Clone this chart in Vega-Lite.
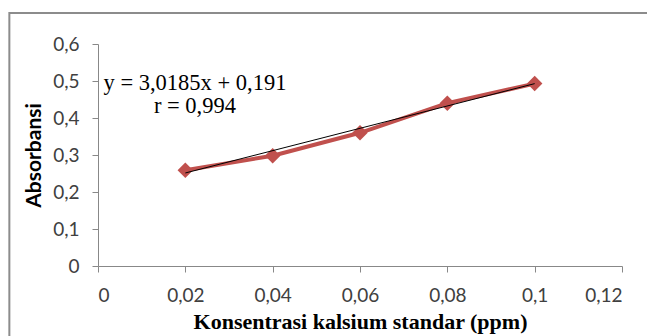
{
  "$schema": "https://vega.github.io/schema/vega-lite/v6.json",
  "autosize": "none",
  "width": 524,
  "height": 222,
  "padding": {"left": 98, "top": 44, "right": 25, "bottom": 70},
  "background": "white",
  "config": {"view": {"stroke": null}},
  "datasets": {
    "obs": [
      {"konsentrasi": 0.02, "absorbansi": 0.259},
      {"konsentrasi": 0.04, "absorbansi": 0.298},
      {"konsentrasi": 0.06, "absorbansi": 0.36},
      {"konsentrasi": 0.08, "absorbansi": 0.44},
      {"konsentrasi": 0.1, "absorbansi": 0.493}
    ],
    "trend": [
      {"konsentrasi": 0.02, "absorbansi": 0.2514},
      {"konsentrasi": 0.1, "absorbansi": 0.4929}
    ],
    "eq": [
      {"konsentrasi": 0.0222, "absorbansi": 0.494, "label": "y = 3,0185x + 0,191"},
      {"konsentrasi": 0.0222, "absorbansi": 0.432, "label": "r = 0,994"}
    ]
  },
  "layer": [
    {
      "data": {"name": "obs"},
      "mark": {"type": "line", "color": "#c0504d", "strokeWidth": 4, "point": {"shape": "diamond", "size": 240, "filled": true, "color": "#c0504d"}},
      "encoding": {
        "x": {
          "field": "konsentrasi", "type": "quantitative",
          "scale": {"domain": [0, 0.12], "nice": false},
          "axis": {
            "values": [0, 0.02, 0.04, 0.06, 0.08, 0.1, 0.12],
            "tickCount": 20,
            "labelExpr": "replace(format(datum.value, '~g'), '.', ',')",
            "labelOverlap": false,
            "title": "Konsentrasi kalsium standar (ppm)",
            "titleFont": "Liberation Serif", "titleFontSize": 22, "titleFontWeight": "bold", "titleColor": "#000000",
            "titlePadding": 6,
            "labelFont": "Lato", "labelFontSize": 19, "labelColor": "#404040", "labelPadding": 14,
            "domainColor": "#888888", "tickColor": "#888888", "tickSize": 6, "grid": false
          }
        },
        "y": {
          "field": "absorbansi", "type": "quantitative",
          "scale": {"domain": [0, 0.6], "nice": false},
          "axis": {
            "values": [0, 0.1, 0.2, 0.3, 0.4, 0.5, 0.6],
            "tickCount": 20,
            "labelExpr": "replace(format(datum.value, '~g'), '.', ',')",
            "labelOverlap": false,
            "title": "Absorbansi",
            "titleFont": "Lato", "titleFontSize": 21, "titleFontWeight": "bold", "titleColor": "#000000",
            "titlePadding": 8,
            "labelFont": "Lato", "labelFontSize": 19, "labelColor": "#404040", "labelPadding": 13,
            "domainColor": "#888888", "tickColor": "#888888", "tickSize": 6, "grid": false
          }
        }
      }
    },
    {
      "data": {"values": [{"a": 1}]},
      "mark": {"type": "rect", "fill": null, "stroke": "#8c8c8c", "strokeWidth": 2, "clip": false},
      "encoding": {
        "x": {"datum": -0.0203, "type": "quantitative"},
        "x2": {"datum": 0.14},
        "y": {"datum": 0.684, "type": "quantitative"},
        "y2": {"datum": -0.3}
      }
    },
    {
      "data": {"name": "trend"},
      "mark": {"type": "line", "color": "#000000", "strokeWidth": 1},
      "encoding": {
        "x": {"field": "konsentrasi", "type": "quantitative"},
        "y": {"field": "absorbansi", "type": "quantitative"}
      }
    },
    {
      "data": {"name": "eq"},
      "mark": {"type": "text", "font": "Liberation Serif", "fontSize": 22.5, "color": "#000000", "align": "center", "baseline": "middle"},
      "encoding": {
        "x": {"field": "konsentrasi", "type": "quantitative"},
        "y": {"field": "absorbansi", "type": "quantitative"},
        "text": {"field": "label"}
      }
    }
  ]
}
